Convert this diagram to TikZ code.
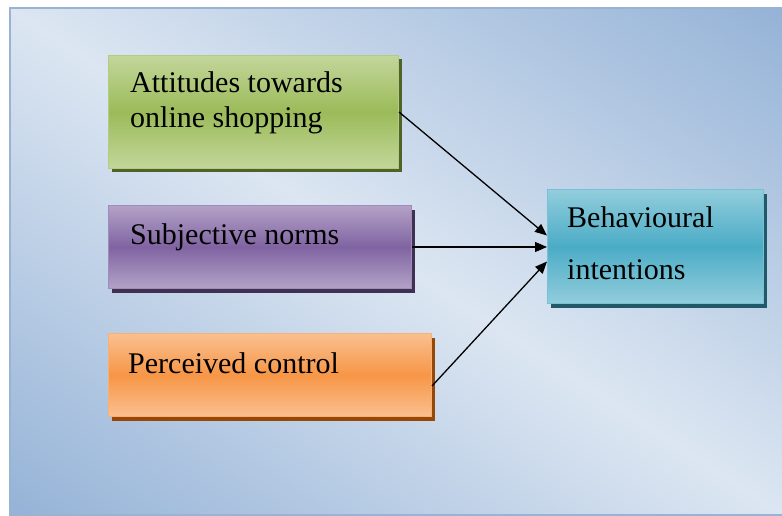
\documentclass[tikz,border=0pt]{standalone}
\usepackage{fontspec}
\setmainfont{Liberation Serif}
\usetikzlibrary{shadows,arrows.meta}
\definecolor{bgdark}{HTML}{95B3D7}
\definecolor{bglight}{HTML}{DCE6F2}
\definecolor{frame}{HTML}{9AB3D3}
\definecolor{gl}{HTML}{C3D69B}\definecolor{gm}{HTML}{9BBB59}\definecolor{gs}{HTML}{4F6228}
\definecolor{pl}{HTML}{B3A2C7}\definecolor{pm}{HTML}{8064A2}\definecolor{ps}{HTML}{3F3151}
\definecolor{ol}{HTML}{FAC090}\definecolor{om}{HTML}{F79646}\definecolor{os}{HTML}{974806}
\definecolor{bl}{HTML}{92CDDC}\definecolor{bm}{HTML}{4BACC6}\definecolor{bs}{HTML}{215968}
\begin{document}
\begin{tikzpicture}[x=1pt,y=-1pt,
 box/.style={rectangle, anchor=north west, inner sep=0pt, line width=1pt},
 gbox/.style={box, draw=gm!75!white, top color=gl, bottom color=gl, middle color=gm,
   general shadow={fill=gs, shadow xshift=3pt, shadow yshift=-4pt}},
 pbox/.style={box, draw=pm!75!white, top color=pl, bottom color=pl, middle color=pm,
   general shadow={fill=ps, shadow xshift=3pt, shadow yshift=-4pt}},
 obox/.style={box, draw=om!75!white, top color=ol, bottom color=ol, middle color=om,
   general shadow={fill=os, shadow xshift=3pt, shadow yshift=-4pt}},
 bbox/.style={box, draw=bm!75!white, top color=bl, bottom color=bl, middle color=bm,
   general shadow={fill=bs, shadow xshift=3pt, shadow yshift=-4pt}},
 lbl/.style={anchor=base west, inner sep=0pt, font=\fontsize{30}{36}\selectfont, text=black},
 arr/.style={-{Triangle[length=12pt,width=10pt]}, line width=1.3pt, black}
]
\useasboundingbox (0,0) rectangle (782,516);
\begin{scope}
\clip (10,8) rectangle (782,515);
\shade[top color=bgdark, bottom color=bgdark, middle color=bglight, shading angle=-33.2]
  (-28,-162.5) rectangle (820,685.5);
\end{scope}
\draw[frame, line width=1.2pt] (782,8) -- (10,8) -- (10,515) -- (782,515);

\node[gbox, minimum width=290pt, minimum height=113pt] (att) at (108,55) {};
\node[pbox, minimum width=303pt, minimum height=83pt] (sub) at (108,205) {};
\node[obox, minimum width=323pt, minimum height=83pt] (per) at (108,333) {};
\node[bbox, minimum width=216pt, minimum height=114pt] (beh) at (547,189) {};

\node[lbl] (attA) at (130,93) {Attitudes towards};
\node[lbl] (attB) at (130,128) {online shopping};
\node[lbl] (subT) at (130,244) {Subjective norms};
\node[lbl] (perT) at (128,373) {Perceived control};
\node[lbl] (behA) at (567,227) {Behavioural};
\node[lbl] (behB) at (567,279) {intentions};

\draw[arr] (att.east) -- ([yshift=11pt]beh.west);
\draw[arr] (sub.east) -- (sub.east -| beh.west);
\draw[arr] ([yshift=-11pt]per.east) -- ([yshift=-15pt]beh.west);
\end{tikzpicture}
\end{document}
